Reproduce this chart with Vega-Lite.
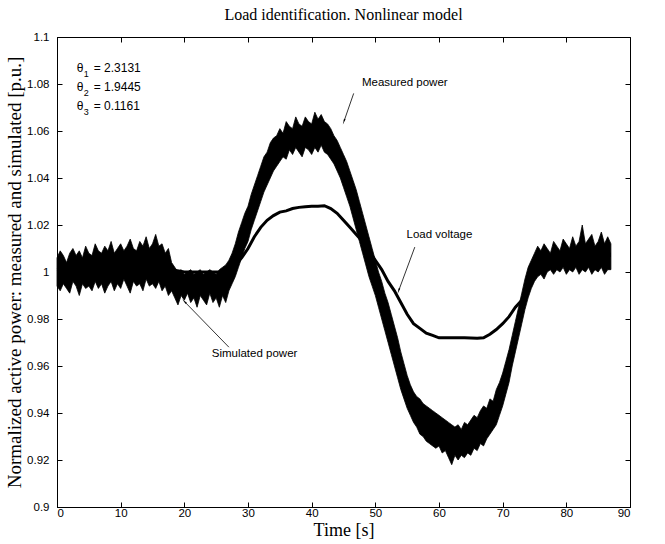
{
  "$schema": "https://vega.github.io/schema/vega-lite/v6.json",
  "width": 573,
  "height": 470,
  "padding": {"left": 5, "top": 7, "right": 26, "bottom": 0},
  "background": "white",
  "title": {"text": "Load identification. Nonlinear model", "font": "Liberation Serif", "fontSize": 16, "fontWeight": "normal", "color": "black", "offset": 8},
  "config": {
    "view": {"stroke": "black", "strokeWidth": 1},
    "axis": {"grid": false, "domainColor": "black", "tickColor": "black", "labelColor": "black", "labelFont": "Liberation Sans", "labelFontSize": 11.5, "titleFont": "Liberation Serif", "titleFontSize": 19, "titleFontWeight": "normal", "titleColor": "black", "tickSize": -5},
    "axisX": {"labelPadding": 5},
    "axisY": {"labelPadding": 13}
  },
  "datasets": {
    "measured": [
      {"t":0,"lo":0.994,"hi":1.006},{"t":0.5,"lo":0.992,"hi":1.009},{"t":1,"lo":0.995,"hi":1.007},{"t":1.5,"lo":0.993,"hi":1.004},{"t":2,"lo":0.991,"hi":1.008},{"t":2.5,"lo":0.996,"hi":1.010},{"t":3,"lo":0.994,"hi":1.007},{"t":3.5,"lo":0.990,"hi":1.009},{"t":4,"lo":0.995,"hi":1.006},{"t":4.5,"lo":0.993,"hi":1.011},
      {"t":5,"lo":0.994,"hi":1.008},{"t":5.5,"lo":0.992,"hi":1.007},{"t":6,"lo":0.996,"hi":1.012},{"t":6.5,"lo":0.993,"hi":1.009},{"t":7,"lo":0.995,"hi":1.008},{"t":7.5,"lo":0.991,"hi":1.011},{"t":8,"lo":0.994,"hi":1.009},{"t":8.5,"lo":0.996,"hi":1.013},{"t":9,"lo":0.992,"hi":1.008},{"t":9.5,"lo":0.995,"hi":1.010},
      {"t":10,"lo":0.993,"hi":1.012},{"t":10.5,"lo":0.997,"hi":1.009},{"t":11,"lo":0.994,"hi":1.011},{"t":11.5,"lo":0.991,"hi":1.014},{"t":12,"lo":0.996,"hi":1.010},{"t":12.5,"lo":0.994,"hi":1.009},{"t":13,"lo":0.995,"hi":1.013},{"t":13.5,"lo":0.992,"hi":1.011},{"t":14,"lo":0.997,"hi":1.015},{"t":14.5,"lo":0.994,"hi":1.010},
      {"t":15,"lo":0.995,"hi":1.012},{"t":15.5,"lo":0.993,"hi":1.016},{"t":16,"lo":0.996,"hi":1.011},{"t":16.5,"lo":0.992,"hi":1.012},{"t":17,"lo":0.994,"hi":1.008},{"t":17.5,"lo":0.990,"hi":1.010},{"t":18,"lo":0.992,"hi":1.004},{"t":18.5,"lo":0.989,"hi":1.002},{"t":19,"lo":0.986,"hi":1.000},{"t":19.5,"lo":0.990,"hi":1.001},
      {"t":20,"lo":0.988,"hi":0.999},{"t":20.5,"lo":0.991,"hi":1.000},{"t":21,"lo":0.987,"hi":1.001},{"t":21.5,"lo":0.989,"hi":0.999},{"t":22,"lo":0.985,"hi":1.000},{"t":22.5,"lo":0.990,"hi":1.001},{"t":23,"lo":0.988,"hi":0.999},{"t":23.5,"lo":0.986,"hi":1.000},{"t":24,"lo":0.991,"hi":1.001},{"t":24.5,"lo":0.987,"hi":1.000},
      {"t":25,"lo":0.989,"hi":0.999},{"t":25.5,"lo":0.985,"hi":1.001},{"t":26,"lo":0.990,"hi":1.002},{"t":26.5,"lo":0.987,"hi":1.003},{"t":27,"lo":0.992,"hi":1.005},{"t":27.5,"lo":0.995,"hi":1.008},{"t":28,"lo":0.998,"hi":1.012},{"t":28.5,"lo":1.002,"hi":1.017},{"t":29,"lo":1.006,"hi":1.021},{"t":29.5,"lo":1.010,"hi":1.025},
      {"t":30,"lo":1.013,"hi":1.028},{"t":30.5,"lo":1.018,"hi":1.033},{"t":31,"lo":1.022,"hi":1.037},{"t":31.5,"lo":1.026,"hi":1.041},{"t":32,"lo":1.030,"hi":1.045},{"t":32.5,"lo":1.034,"hi":1.049},{"t":33,"lo":1.037,"hi":1.051},{"t":33.5,"lo":1.040,"hi":1.055},{"t":34,"lo":1.043,"hi":1.057},{"t":34.5,"lo":1.045,"hi":1.058},
      {"t":35,"lo":1.047,"hi":1.061},{"t":35.5,"lo":1.049,"hi":1.059},{"t":36,"lo":1.048,"hi":1.064},{"t":36.5,"lo":1.052,"hi":1.062},{"t":37,"lo":1.050,"hi":1.061},{"t":37.5,"lo":1.053,"hi":1.066},{"t":38,"lo":1.051,"hi":1.063},{"t":38.5,"lo":1.049,"hi":1.062},{"t":39,"lo":1.053,"hi":1.066},{"t":39.5,"lo":1.052,"hi":1.064},
      {"t":40,"lo":1.050,"hi":1.063},{"t":40.5,"lo":1.053,"hi":1.068},{"t":41,"lo":1.051,"hi":1.065},{"t":41.5,"lo":1.054,"hi":1.067},{"t":42,"lo":1.051,"hi":1.064},{"t":42.5,"lo":1.050,"hi":1.063},{"t":43,"lo":1.048,"hi":1.061},{"t":43.5,"lo":1.046,"hi":1.058},{"t":44,"lo":1.043,"hi":1.056},{"t":44.5,"lo":1.040,"hi":1.053},
      {"t":45,"lo":1.036,"hi":1.050},{"t":45.5,"lo":1.032,"hi":1.047},{"t":46,"lo":1.028,"hi":1.043},{"t":46.5,"lo":1.023,"hi":1.039},{"t":47,"lo":1.018,"hi":1.035},{"t":47.5,"lo":1.013,"hi":1.030},{"t":48,"lo":1.008,"hi":1.025},{"t":48.5,"lo":1.003,"hi":1.020},{"t":49,"lo":0.998,"hi":1.015},{"t":49.5,"lo":0.994,"hi":1.010},
      {"t":50,"lo":0.990,"hi":1.005},{"t":50.5,"lo":0.985,"hi":1.000},{"t":51,"lo":0.980,"hi":0.996},{"t":51.5,"lo":0.975,"hi":0.991},{"t":52,"lo":0.970,"hi":0.987},{"t":52.5,"lo":0.965,"hi":0.982},{"t":53,"lo":0.960,"hi":0.977},{"t":53.5,"lo":0.955,"hi":0.972},{"t":54,"lo":0.950,"hi":0.966},{"t":54.5,"lo":0.946,"hi":0.961},
      {"t":55,"lo":0.942,"hi":0.956},{"t":55.5,"lo":0.939,"hi":0.952},{"t":56,"lo":0.936,"hi":0.949},{"t":56.5,"lo":0.934,"hi":0.947},{"t":57,"lo":0.931,"hi":0.946},{"t":57.5,"lo":0.930,"hi":0.944},{"t":58,"lo":0.928,"hi":0.943},{"t":58.5,"lo":0.927,"hi":0.942},{"t":59,"lo":0.926,"hi":0.941},{"t":59.5,"lo":0.925,"hi":0.940},
      {"t":60,"lo":0.926,"hi":0.939},{"t":60.5,"lo":0.923,"hi":0.938},{"t":61,"lo":0.924,"hi":0.937},{"t":61.5,"lo":0.921,"hi":0.936},{"t":62,"lo":0.918,"hi":0.935},{"t":62.5,"lo":0.922,"hi":0.934},{"t":63,"lo":0.920,"hi":0.935},{"t":63.5,"lo":0.922,"hi":0.933},{"t":64,"lo":0.921,"hi":0.936},{"t":64.5,"lo":0.923,"hi":0.935},
      {"t":65,"lo":0.922,"hi":0.937},{"t":65.5,"lo":0.925,"hi":0.939},{"t":66,"lo":0.924,"hi":0.938},{"t":66.5,"lo":0.927,"hi":0.941},{"t":67,"lo":0.926,"hi":0.943},{"t":67.5,"lo":0.929,"hi":0.942},{"t":68,"lo":0.931,"hi":0.946},{"t":68.5,"lo":0.933,"hi":0.945},{"t":69,"lo":0.935,"hi":0.950},{"t":69.5,"lo":0.939,"hi":0.953},
      {"t":70,"lo":0.943,"hi":0.957},{"t":70.5,"lo":0.948,"hi":0.962},{"t":71,"lo":0.953,"hi":0.967},{"t":71.5,"lo":0.960,"hi":0.973},{"t":72,"lo":0.966,"hi":0.979},{"t":72.5,"lo":0.972,"hi":0.985},{"t":73,"lo":0.978,"hi":0.991},{"t":73.5,"lo":0.984,"hi":0.997},{"t":74,"lo":0.989,"hi":1.002},{"t":74.5,"lo":0.993,"hi":1.005},
      {"t":75,"lo":0.996,"hi":1.008},{"t":75.5,"lo":0.998,"hi":1.011},{"t":76,"lo":0.999,"hi":1.009},{"t":76.5,"lo":0.997,"hi":1.012},{"t":77,"lo":1.000,"hi":1.010},{"t":77.5,"lo":1.001,"hi":1.008},{"t":78,"lo":0.999,"hi":1.013},{"t":78.5,"lo":1.001,"hi":1.011},{"t":79,"lo":1.000,"hi":1.009},{"t":79.5,"lo":1.002,"hi":1.014},
      {"t":80,"lo":0.999,"hi":1.012},{"t":80.5,"lo":1.001,"hi":1.010},{"t":81,"lo":1.000,"hi":1.015},{"t":81.5,"lo":1.002,"hi":1.011},{"t":82,"lo":0.999,"hi":1.013},{"t":82.5,"lo":1.001,"hi":1.020},{"t":83,"lo":1.000,"hi":1.012},{"t":83.5,"lo":1.002,"hi":1.014},{"t":84,"lo":0.999,"hi":1.016},{"t":84.5,"lo":1.001,"hi":1.011},
      {"t":85,"lo":1.000,"hi":1.013},{"t":85.5,"lo":1.002,"hi":1.017},{"t":86,"lo":0.999,"hi":1.012},{"t":86.5,"lo":1.001,"hi":1.015},{"t":87,"lo":1.001,"hi":1.012}
    ],
    "simulated": [
      {"t":0,"v":1.001},{"t":2,"v":1.0},{"t":4,"v":1.0},{"t":6,"v":1.001},{"t":8,"v":1.001},{"t":10,"v":1.002},{"t":12,"v":1.002},{"t":14,"v":1.003},{"t":16,"v":1.002},{"t":17,"v":1.0},{"t":18,"v":0.997},{"t":19,"v":0.995},{"t":20,"v":0.994},{"t":22,"v":0.994},{"t":24,"v":0.994},{"t":26,"v":0.995},{"t":27,"v":0.998},{"t":28,"v":1.005},{"t":29,"v":1.013},{"t":30,"v":1.021},{"t":31,"v":1.029},{"t":32,"v":1.037},{"t":33,"v":1.044},{"t":34,"v":1.050},{"t":35,"v":1.054},{"t":36,"v":1.056},{"t":37,"v":1.058},{"t":38,"v":1.058},{"t":40,"v":1.059},{"t":42,"v":1.058},{"t":43,"v":1.054},{"t":44,"v":1.049},{"t":45,"v":1.043},{"t":46,"v":1.035},{"t":47,"v":1.026},{"t":48,"v":1.016},{"t":49,"v":1.006},{"t":50,"v":0.997},{"t":51,"v":0.988},{"t":52,"v":0.978},{"t":53,"v":0.968},{"t":54,"v":0.958},{"t":55,"v":0.949},{"t":56,"v":0.942},{"t":57,"v":0.939},{"t":58,"v":0.936},{"t":60,"v":0.932},{"t":62,"v":0.928},{"t":64,"v":0.928},{"t":66,"v":0.931},{"t":68,"v":0.938},{"t":69,"v":0.942},{"t":70,"v":0.950},{"t":71,"v":0.960},{"t":72,"v":0.972},{"t":73,"v":0.984},{"t":74,"v":0.995},{"t":75,"v":1.002},{"t":76,"v":1.003},{"t":78,"v":1.004},{"t":80,"v":1.006},{"t":82,"v":1.006},{"t":84,"v":1.007},{"t":87,"v":1.008}
    ],
    "voltage": [
      {"t":0,"v":1.001},{"t":5,"v":1.002},{"t":10,"v":1.002},{"t":15,"v":1.002},{"t":18,"v":1.001},{"t":20,"v":1.0},{"t":24,"v":1.0},{"t":26,"v":1.0},{"t":27,"v":1.001},{"t":28,"v":1.003},{"t":29,"v":1.006},{"t":30,"v":1.010},{"t":31,"v":1.015},{"t":32,"v":1.019},{"t":33,"v":1.022},{"t":34,"v":1.024},{"t":35,"v":1.0255},{"t":36,"v":1.026},{"t":37,"v":1.027},{"t":38,"v":1.0275},{"t":39,"v":1.0278},{"t":40,"v":1.028},{"t":41,"v":1.028},{"t":42,"v":1.0282},{"t":43,"v":1.027},{"t":44,"v":1.025},{"t":45,"v":1.022},{"t":46,"v":1.019},{"t":47,"v":1.016},{"t":48,"v":1.013},{"t":49,"v":1.009},{"t":50,"v":1.005},{"t":51,"v":1.001},{"t":52,"v":0.996},{"t":53,"v":0.992},{"t":54,"v":0.987},{"t":55,"v":0.982},{"t":56,"v":0.978},{"t":57,"v":0.976},{"t":58,"v":0.974},{"t":59,"v":0.973},{"t":60,"v":0.972},{"t":62,"v":0.972},{"t":64,"v":0.972},{"t":66,"v":0.9718},{"t":67,"v":0.972},{"t":68,"v":0.9735},{"t":69,"v":0.9755},{"t":70,"v":0.978},{"t":71,"v":0.981},{"t":72,"v":0.985},{"t":73,"v":0.988},{"t":74,"v":0.993},{"t":75,"v":0.999},{"t":76,"v":1.002},{"t":78,"v":1.004},{"t":80,"v":1.005},{"t":84,"v":1.006},{"t":87,"v":1.007}
    ],
    "arrows": [
      {"name":"Measured power","t1":46.6,"v1":1.076,"t2":45.1,"v2":1.0643},
      {"name":"Load voltage","t1":56.2,"v1":1.0106,"t2":53.7,"v2":0.9923},
      {"name":"Simulated power","t1":27.0,"v1":0.968,"t2":20.1,"v2":0.9872}
    ],
    "labels": [
      {"text":"Measured power","t":47.9,"v":1.0804},
      {"text":"Load voltage","t":54.9,"v":1.0157},
      {"text":"Simulated power","t":24.3,"v":0.9651}
    ],
    "thetas": [
      {"sub":"1","val":"= 2.3131","t":3.1,"v":1.0868},
      {"sub":"2","val":"= 1.9445","t":3.1,"v":1.0787},
      {"sub":"3","val":"= 0.1161","t":3.1,"v":1.0706}
    ]
  },
  "resolve": {"axis": {"x": "independent", "y": "independent"}},
  "layer": [
    {
      "data": {"name": "measured"},
      "mark": {"type": "area", "color": "black", "stroke": "black", "strokeWidth": 0.8},
      "encoding": {
        "x": {"field": "t", "type": "quantitative", "scale": {"domain": [0, 90], "nice": false, "zero": false}, "axis": {"title": "Time [s]", "values": [0,10,20,30,40,50,60,70,80,90], "titlePadding": 3, "titleFontSize": 18}},
        "y": {"field": "lo", "type": "quantitative", "scale": {"domain": [0.9, 1.1], "nice": false, "zero": false}, "axis": {"title": "Normalized active power: measured and simulated [p.u.]", "values": [0.9,0.92,0.94,0.96,0.98,1,1.02,1.04,1.06,1.08,1.1], "format": ".2~f", "titlePadding": 2}},
        "y2": {"field": "hi"}
      }
    },
    {
      "data": {"name": "simulated"},
      "mark": {"type": "line", "color": "black", "strokeWidth": 1.5},
      "encoding": {
        "x": {"field": "t", "type": "quantitative", "axis": null},
        "y": {"field": "v", "type": "quantitative", "axis": null}
      }
    },
    {
      "data": {"name": "voltage"},
      "mark": {"type": "line", "color": "black", "strokeWidth": 3},
      "encoding": {
        "x": {"field": "t", "type": "quantitative", "axis": {"orient": "top", "labels": false, "title": null, "domain": false, "values": [0,10,20,30,40,50,60,70,80,90]}},
        "y": {"field": "v", "type": "quantitative", "axis": {"orient": "right", "labels": false, "title": null, "domain": false, "values": [0.9,0.92,0.94,0.96,0.98,1,1.02,1.04,1.06,1.08,1.1]}}
      }
    },
    {
      "data": {"name": "arrows"},
      "mark": {"type": "rule", "color": "black", "strokeWidth": 0.8},
      "encoding": {
        "x": {"field": "t1", "type": "quantitative", "axis": null},
        "y": {"field": "v1", "type": "quantitative", "axis": null},
        "x2": {"field": "t2"},
        "y2": {"field": "v2"}
      }
    },
    {
      "data": {"name": "arrows"},
      "transform": [{"filter": "datum.name === 'Measured power'"}],
      "mark": {"type": "point", "shape": "wedge", "filled": true, "color": "black", "size": 45, "angle": 199, "opacity": 1},
      "encoding": {
        "x": {"field": "t2", "type": "quantitative", "axis": null},
        "y": {"field": "v2", "type": "quantitative", "axis": null}
      }
    },
    {
      "data": {"name": "arrows"},
      "transform": [{"filter": "datum.name === 'Load voltage'"}],
      "mark": {"type": "point", "shape": "wedge", "filled": true, "color": "black", "size": 45, "angle": 200, "opacity": 1},
      "encoding": {
        "x": {"field": "t2", "type": "quantitative", "axis": null},
        "y": {"field": "v2", "type": "quantitative", "axis": null}
      }
    },
    {
      "data": {"name": "arrows"},
      "transform": [{"filter": "datum.name === 'Simulated power'"}],
      "mark": {"type": "point", "shape": "wedge", "filled": true, "color": "black", "size": 45, "angle": 315, "opacity": 1},
      "encoding": {
        "x": {"field": "t2", "type": "quantitative", "axis": null},
        "y": {"field": "v2", "type": "quantitative", "axis": null}
      }
    },
    {
      "data": {"name": "labels"},
      "mark": {"type": "text", "font": "Liberation Sans", "fontSize": 11.5, "align": "left", "baseline": "middle", "color": "black"},
      "encoding": {
        "x": {"field": "t", "type": "quantitative", "axis": null},
        "y": {"field": "v", "type": "quantitative", "axis": null},
        "text": {"field": "text"}
      }
    },
    {
      "data": {"name": "thetas"},
      "mark": {"type": "text", "font": "Liberation Sans", "fontSize": 12, "align": "left", "baseline": "middle", "color": "black"},
      "encoding": {
        "x": {"field": "t", "type": "quantitative", "axis": null},
        "y": {"field": "v", "type": "quantitative", "axis": null},
        "text": {"value": "θ"}
      }
    },
    {
      "data": {"name": "thetas"},
      "mark": {"type": "text", "font": "Liberation Sans", "fontSize": 9, "align": "left", "baseline": "middle", "color": "black", "dx": 7, "dy": 6},
      "encoding": {
        "x": {"field": "t", "type": "quantitative", "axis": null},
        "y": {"field": "v", "type": "quantitative", "axis": null},
        "text": {"field": "sub"}
      }
    },
    {
      "data": {"name": "thetas"},
      "mark": {"type": "text", "font": "Liberation Sans", "fontSize": 12, "align": "left", "baseline": "middle", "color": "black", "dx": 17},
      "encoding": {
        "x": {"field": "t", "type": "quantitative", "axis": null},
        "y": {"field": "v", "type": "quantitative", "axis": null},
        "text": {"field": "val"}
      }
    }
  ]
}
